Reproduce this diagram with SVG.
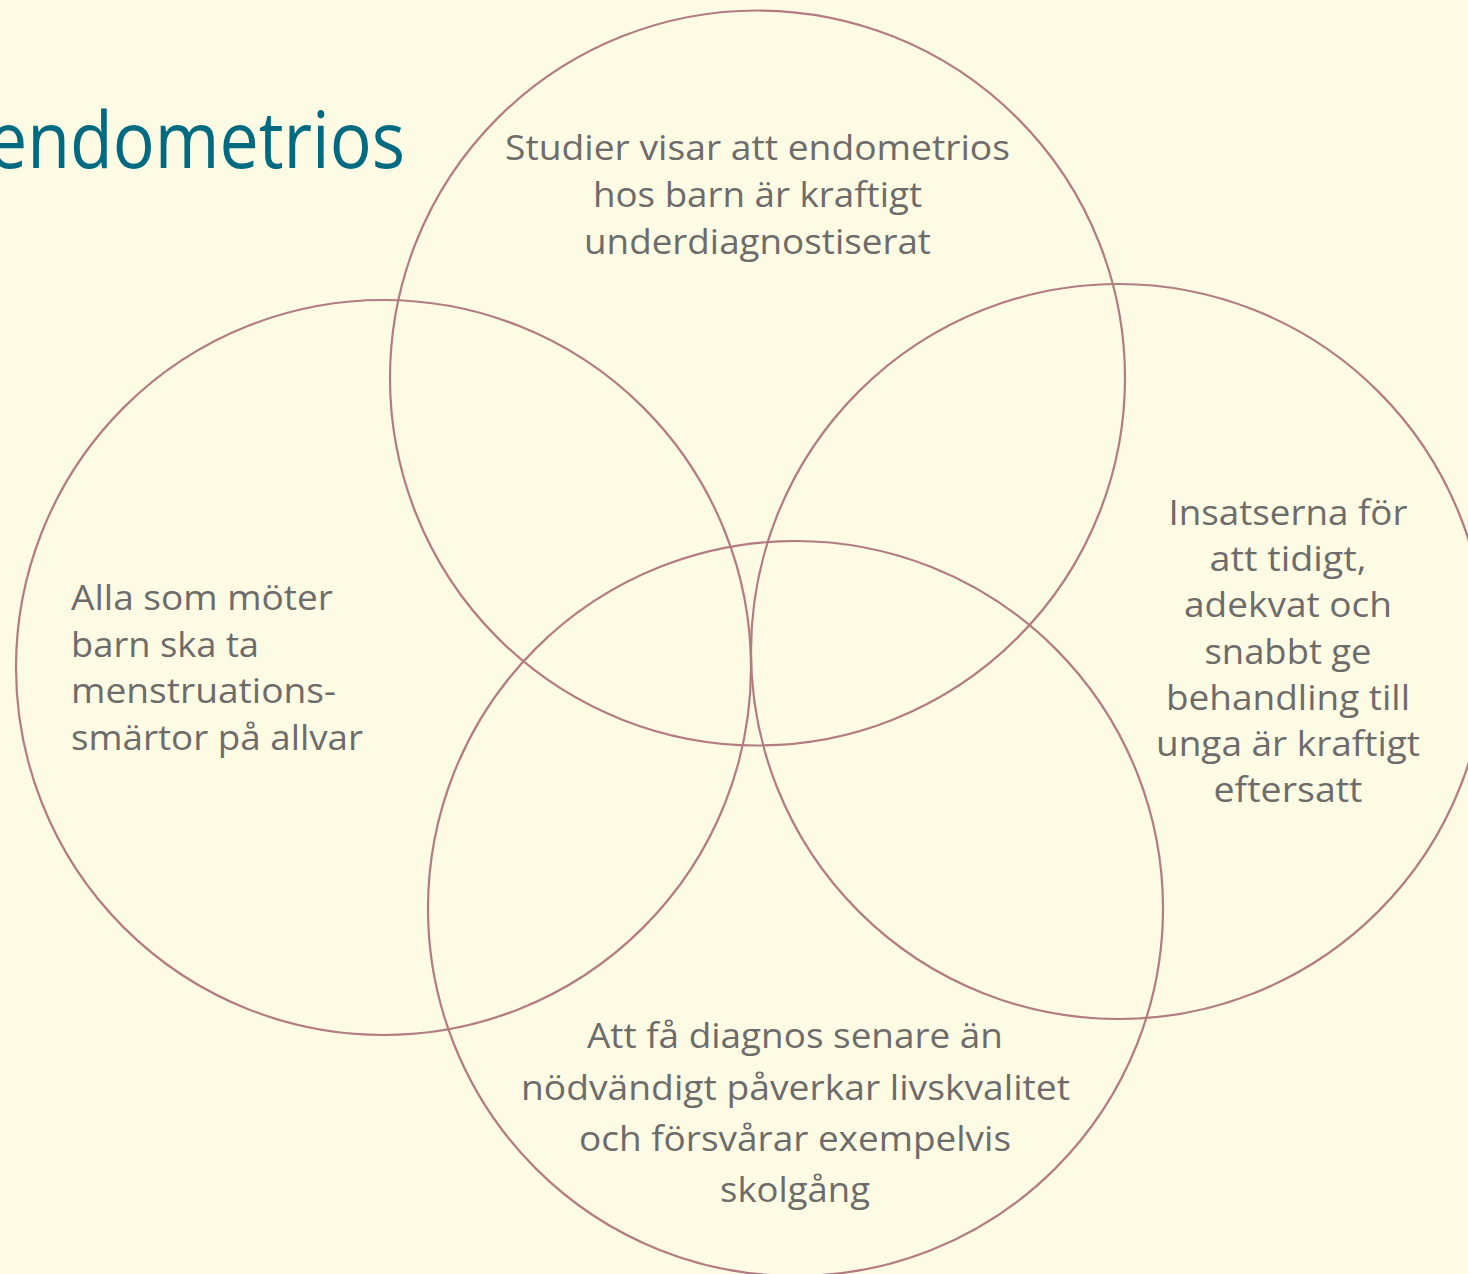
<svg xmlns="http://www.w3.org/2000/svg" width="1468" height="1274" viewBox="0 0 1468 1274">
<style>
.c{fill:none;stroke:#B27C80;stroke-width:2.2}
.t{font-family:"Open Sans","Noto Sans","Liberation Sans",sans-serif;fill:#6E6B6B;font-size:34px}
.m{text-anchor:middle}
.title{font-family:"Open Sans","Noto Sans","Liberation Sans",sans-serif;fill:#006B80;font-size:78px}
</style>
<rect width="1468" height="1274" fill="#FEFBE5"/>
<text class="title" x="-12" y="168" textLength="417" lengthAdjust="spacingAndGlyphs">endometrios</text>
<g id="connectors"/>
<g id="node-top">
<circle class="c" cx="757.5" cy="378" r="367.5"/>
<text class="t m" x="757.5" y="160" textLength="505" lengthAdjust="spacingAndGlyphs">Studier visar att endometrios</text>
<text class="t m" x="757.5" y="207" textLength="329" lengthAdjust="spacingAndGlyphs">hos barn är kraftigt</text>
<text class="t m" x="757.5" y="254" textLength="347" lengthAdjust="spacingAndGlyphs">underdiagnostiserat</text>
</g>
<g id="node-left">
<circle class="c" cx="383.5" cy="667.5" r="367.5"/>
<text class="t" x="71" y="610" textLength="262" lengthAdjust="spacingAndGlyphs">Alla som möter</text>
<text class="t" x="71" y="656.5" textLength="188" lengthAdjust="spacingAndGlyphs">barn ska ta</text>
<text class="t" x="71" y="703" textLength="265" lengthAdjust="spacingAndGlyphs">menstruations-</text>
<text class="t" x="71" y="749.5" textLength="292" lengthAdjust="spacingAndGlyphs">smärtor på allvar</text>
</g>
<g id="node-right">
<circle class="c" cx="1118.5" cy="651.5" r="367.5"/>
<text class="t m" x="1288" y="525" textLength="239" lengthAdjust="spacingAndGlyphs">Insatserna för</text>
<text class="t m" x="1288" y="571" textLength="157" lengthAdjust="spacingAndGlyphs">att tidigt,</text>
<text class="t m" x="1288" y="617" textLength="208" lengthAdjust="spacingAndGlyphs">adekvat och</text>
<text class="t m" x="1288" y="664" textLength="167" lengthAdjust="spacingAndGlyphs">snabbt ge</text>
<text class="t m" x="1288" y="710" textLength="244" lengthAdjust="spacingAndGlyphs">behandling till</text>
<text class="t m" x="1288" y="756" textLength="264" lengthAdjust="spacingAndGlyphs">unga är kraftigt</text>
<text class="t m" x="1288" y="802" textLength="149" lengthAdjust="spacingAndGlyphs">eftersatt</text>
</g>
<g id="node-bottom">
<circle class="c" cx="795.5" cy="908.5" r="367.5"/>
<text class="t m" x="795" y="1048" textLength="416" lengthAdjust="spacingAndGlyphs" style="font-size:35px">Att få diagnos senare än</text>
<text class="t m" x="795.5" y="1099.5" textLength="549" lengthAdjust="spacingAndGlyphs" style="font-size:35px">nödvändigt påverkar livskvalitet</text>
<text class="t m" x="795" y="1151" textLength="432" lengthAdjust="spacingAndGlyphs" style="font-size:35px">och försvårar exempelvis</text>
<text class="t m" x="795" y="1202" textLength="150" lengthAdjust="spacingAndGlyphs" style="font-size:35px">skolgång</text>
</g>
</svg>
